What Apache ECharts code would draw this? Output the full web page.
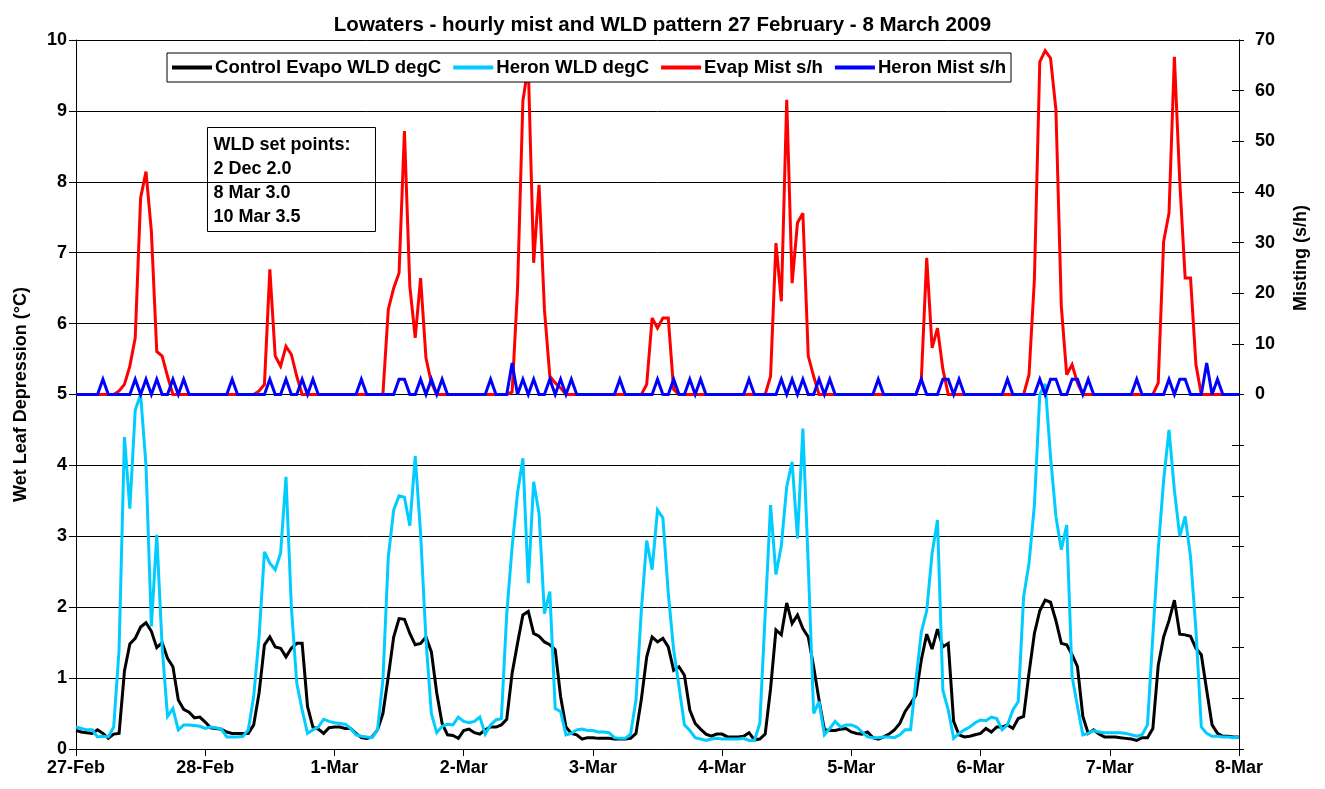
<!DOCTYPE html>
<html>
<head>
<meta charset="utf-8">
<script src="https://cdn.jsdelivr.net/npm/echarts@6/dist/echarts.min.js"></script>
<style>
html,body{margin:0;padding:0;background:#fff;}
#chart{width:1325px;height:789px;}
</style>
</head>
<body>
<div id="chart"></div>
<script>
// Day tick labels (one per 24 hourly points)
const dayLabels = ['27-Feb','28-Feb','1-Mar','2-Mar','3-Mar','4-Mar','5-Mar','6-Mar','7-Mar','8-Mar'];
const hoursPerDay = 24;

// Control Evapo WLD degC (hourly, left axis)
const controlWLD = [
  0.26,0.24,0.23,0.22,0.27,0.22,0.15,0.21,0.22,1.10,1.48,1.56,1.72,1.78,1.66,1.43,1.50,1.28,1.16,0.69,0.56,0.52,0.44,0.45,
  0.38,0.30,0.29,0.28,0.24,0.22,0.22,0.22,0.22,0.34,0.79,1.47,1.58,1.44,1.42,1.30,1.42,1.49,1.49,0.60,0.31,0.28,0.22,0.30,
  0.31,0.31,0.29,0.29,0.22,0.16,0.15,0.17,0.27,0.50,1.02,1.58,1.84,1.83,1.63,1.47,1.49,1.58,1.37,0.79,0.36,0.20,0.19,0.15,
  0.26,0.28,0.23,0.21,0.27,0.31,0.31,0.34,0.42,1.07,1.49,1.89,1.94,1.63,1.59,1.51,1.47,1.40,0.74,0.31,0.22,0.20,0.14,0.16,
  0.16,0.15,0.15,0.15,0.14,0.14,0.14,0.15,0.22,0.70,1.30,1.58,1.51,1.56,1.44,1.11,1.16,1.04,0.55,0.36,0.28,0.21,0.18,0.21,
  0.21,0.17,0.17,0.17,0.18,0.23,0.13,0.14,0.21,0.85,1.68,1.61,2.06,1.77,1.89,1.70,1.58,1.16,0.69,0.27,0.26,0.26,0.28,0.29,
  0.24,0.22,0.21,0.24,0.16,0.14,0.17,0.21,0.27,0.36,0.53,0.64,0.76,1.26,1.62,1.41,1.69,1.44,1.49,0.39,0.20,0.17,0.18,0.20,
  0.22,0.29,0.24,0.31,0.31,0.34,0.29,0.43,0.46,1.07,1.63,1.95,2.10,2.07,1.81,1.49,1.47,1.33,1.16,0.46,0.22,0.27,0.21,0.17,
  0.17,0.17,0.16,0.15,0.14,0.12,0.16,0.16,0.29,1.18,1.58,1.81,2.10,1.62,1.61,1.59,1.42,1.33,0.83,0.34,0.22,0.18,0.18,0.17,
  0.17
];

// Heron WLD degC (hourly, left axis)
const heronWLD = [
  0.31,0.29,0.27,0.27,0.17,0.18,0.17,0.31,1.40,4.40,3.39,4.78,5.00,4.00,1.73,3.02,1.44,0.46,0.57,0.27,0.34,0.34,0.33,0.32,
  0.29,0.31,0.30,0.28,0.17,0.17,0.17,0.18,0.27,0.74,1.58,2.78,2.62,2.53,2.76,3.84,2.00,0.93,0.55,0.22,0.27,0.31,0.42,0.39,
  0.37,0.36,0.35,0.29,0.20,0.18,0.17,0.16,0.27,0.97,2.71,3.37,3.57,3.55,3.15,4.13,3.04,1.54,0.50,0.23,0.32,0.35,0.34,0.45,
  0.39,0.37,0.39,0.45,0.21,0.34,0.41,0.43,1.91,2.85,3.61,4.10,2.34,3.77,3.32,1.91,2.22,0.57,0.53,0.20,0.22,0.27,0.28,0.26,
  0.26,0.24,0.24,0.23,0.16,0.15,0.15,0.21,0.69,1.96,2.94,2.53,3.37,3.26,2.20,1.40,0.88,0.34,0.26,0.16,0.14,0.12,0.14,0.15,
  0.14,0.14,0.14,0.14,0.15,0.12,0.12,0.36,1.90,3.44,2.46,2.87,3.70,4.05,2.97,4.52,2.60,0.50,0.67,0.20,0.29,0.39,0.31,0.34,
  0.34,0.31,0.24,0.17,0.16,0.16,0.17,0.17,0.16,0.20,0.27,0.27,0.97,1.65,1.95,2.76,3.23,0.83,0.55,0.15,0.22,0.27,0.31,0.37,
  0.41,0.40,0.45,0.43,0.27,0.34,0.55,0.67,2.15,2.62,3.44,5.00,5.15,4.12,3.28,2.81,3.16,1.02,0.60,0.20,0.22,0.26,0.24,0.23,
  0.23,0.23,0.23,0.22,0.20,0.18,0.20,0.34,1.60,2.81,3.79,4.50,3.65,3.00,3.28,2.71,1.68,0.31,0.22,0.18,0.18,0.17,0.17,0.16,
  0.17
];

// Evap Mist s/h (hourly, right axis)
const evapMist = [
  0,0,0,0,0,0,0,0,0.7,2,5.6,11.2,38.8,44,32.2,8.5,7.6,3.6,0,0,0,0,0,0,
  0,0,0,0,0,0,0,0,0,0,0.7,2,24.7,7.6,5.6,9.5,7.9,3.6,0,0,0,0,0,0,
  0,0,0,0,0,0,0,0,0,0,16.8,21,24,52,21.4,11.2,23,7.2,2.3,0,0,0,0,0,
  0,0,0,0,0,0,0,0,0,0.5,20.7,58,65,26,41.4,16.8,3.6,2.3,1.3,0,0,0,0,0,
  0,0,0,0,0,0,0,0,0,0,2,15.1,13.1,15.1,15.1,1,0,0,0,0,0,0,0,0,
  0,0,0,0,0,0,0,0,0,3.6,29.9,18.4,58.2,22,33.9,35.8,7.6,3.6,0,0,0,0,0,0,
  0,0,0,0,0,0,0,0,0,0,0,0,0,3,27,9.2,13.1,5,0,0,0,0,0,0,
  0,0,0,0,0,0,0,0,0,3.9,22.7,65.7,67.9,66.4,56.2,17.4,3.9,5.9,2.3,0,0,0,0,0,
  0,0,0,0,0,0,0,0,0,2.3,30.2,35.8,66.7,42,23,23,5.9,0,0,0,0,0,0,0,
  0
];

// Heron Mist s/h (hourly, right axis)
const heronMist = [
  0,0,0,0,0,3,0,0,0,0,0,3,0,3,0,3,0,0,3,0,3,0,0,0,
  0,0,0,0,0,3,0,0,0,0,0,0,3,0,0,3,0,0,3,0,3,0,0,0,
  0,0,0,0,0,3,0,0,0,0,0,0,3,3,0,0,3,0,3,0,3,0,0,0,
  0,0,0,0,0,3,0,0,0,6.2,0,3,0,3,0,0,3,0,3,0,3,0,0,0,
  0,0,0,0,0,3,0,0,0,0,0,0,3,0,0,3,0,0,3,0,3,0,0,0,
  0,0,0,0,0,3,0,0,0,0,0,3,0,3,0,3,0,0,3,0,3,0,0,0,
  0,0,0,0,0,3,0,0,0,0,0,0,0,3,0,0,0,3,3,0,3,0,0,0,
  0,0,0,0,0,3,0,0,0,0,0,3,0,3,3,0,0,3,3,0,3,0,0,0,
  0,0,0,0,0,3,0,0,0,0,0,3,0,3,3,0,0,0,6.2,0,3,0,0,0,
  0
];

const seriesNames = ['Control Evapo WLD degC','Heron WLD degC','Evap Mist s/h','Heron Mist s/h'];
const seriesColors = ['#000000','#00CCFF','#FF0000','#0000FF'];
const setPointLines = ['WLD set points:','2 Dec 2.0','8 Mar 3.0','10 Mar 3.5'];

// hourly category labels built from the day labels
const categories = [];
for (let i = 0; i < controlWLD.length; i++) {
  categories.push(dayLabels[Math.floor(i / hoursPerDay)] + ' ' + (i % hoursPerDay) + ':00');
}

const FONT = "'Liberation Sans', Arial, sans-serif";
const chart = echarts.init(document.getElementById('chart'), null, {renderer: 'canvas'});

function lineSeries(idx, data, yAxisIndex) {
  return {
    name: seriesNames[idx], type: 'line', data: data, yAxisIndex: yAxisIndex,
    showSymbol: false, symbol: 'none', smooth: false, z: 2,
    lineStyle: {color: seriesColors[idx], width: 3, join: 'miter', miterLimit: 3},
    itemStyle: {color: seriesColors[idx]},
    emphasis: {disabled: true}, animation: false
  };
}

chart.setOption({
  backgroundColor: '#ffffff',
  animation: false,
  title: {
    text: 'Lowaters - hourly mist and WLD pattern 27 February - 8 March 2009',
    left: 'center', top: 10,
    textStyle: {fontFamily: FONT, fontWeight: 'bold', fontSize: 20.5, color: '#000'}
  },
  legend: {
    data: seriesNames,
    left: 167, top: 53, z: 20,
    orient: 'horizontal',
    icon: 'rect', itemWidth: 40, itemHeight: 4, itemGap: 12,
    padding: [5, 5],
    backgroundColor: '#ffffff', borderColor: '#000', borderWidth: 1,
    textStyle: {fontFamily: FONT, fontWeight: 'bold', fontSize: 18.6, color: '#000', padding: [0, 0, 0, -2]},
    selectedMode: false
  },
  grid: {left: 76, right: 86, top: 40, bottom: 40, containLabel: false},
  xAxis: {
    type: 'category', data: categories, boundaryGap: false,
    axisLine: {lineStyle: {color: '#000', width: 1}},
    axisTick: {show: true, interval: hoursPerDay - 1, length: 7, inside: false, lineStyle: {color: '#000'}},
    axisLabel: {
      interval: hoursPerDay - 1, margin: 10,
      formatter: v => v.split(' ')[0],
      fontFamily: FONT, fontWeight: 'bold', fontSize: 18, color: '#000'
    },
    splitLine: {show: false}
  },
  yAxis: [
    {
      type: 'value', position: 'left', min: 0, max: 10, interval: 1,
      name: 'Wet Leaf Depression (°C)', nameLocation: 'middle', nameGap: 46, nameRotate: 90,
      nameTextStyle: {fontFamily: FONT, fontWeight: 'bold', fontSize: 18, color: '#000'},
      axisLine: {show: true, lineStyle: {color: '#000', width: 1}},
      axisTick: {show: true, length: 7, lineStyle: {color: '#000'}},
      axisLabel: {margin: 9, fontFamily: FONT, fontWeight: 'bold', fontSize: 18, color: '#000'},
      splitLine: {show: true, lineStyle: {color: '#000', width: 1}}
    },
    {
      type: 'value', position: 'right', min: -70, max: 70, interval: 10,
      axisLine: {show: true, lineStyle: {color: '#000', width: 1}},
      axisTick: {show: true, length: 5, inside: false, lineStyle: {color: '#000'}},
      axisLabel: {
        margin: 16, fontFamily: FONT, fontWeight: 'bold', fontSize: 18, color: '#000',
        formatter: v => (v >= 0 ? String(v) : '')
      },
      splitLine: {show: false}
    },
    {
      type: 'value', position: 'right', min: -70, max: 70, interval: 10,
      axisLine: {show: true, lineStyle: {color: '#000', width: 1}},
      axisTick: {show: true, length: 7, inside: true, lineStyle: {color: '#000'}},
      axisLabel: {show: false},
      splitLine: {show: false}
    }
  ],
  series: [
    lineSeries(0, controlWLD, 0),
    lineSeries(1, heronWLD, 0),
    lineSeries(2, evapMist, 1),
    lineSeries(3, heronMist, 1)
  ],
  graphic: [
    {
      type: 'group', left: 207, top: 127, z: 100,
      children: [
        {type: 'rect', shape: {x: 0, y: 0, width: 168, height: 104},
         style: {fill: '#fff', stroke: '#000', lineWidth: 1}},
        {type: 'text', x: 6, y: 6,
         style: {text: setPointLines.join('\n'), font: "bold 18px " + FONT, fill: '#000', lineHeight: 24}}
      ]
    },
    {
      type: 'text', x: 1301, y: 258, rotation: Math.PI / 2, z: 100,
      style: {text: 'Misting (s/h)', font: "bold 18px " + FONT, fill: '#000', align: 'center', verticalAlign: 'middle'}
    }
  ]
});
</script>
</body>
</html>
